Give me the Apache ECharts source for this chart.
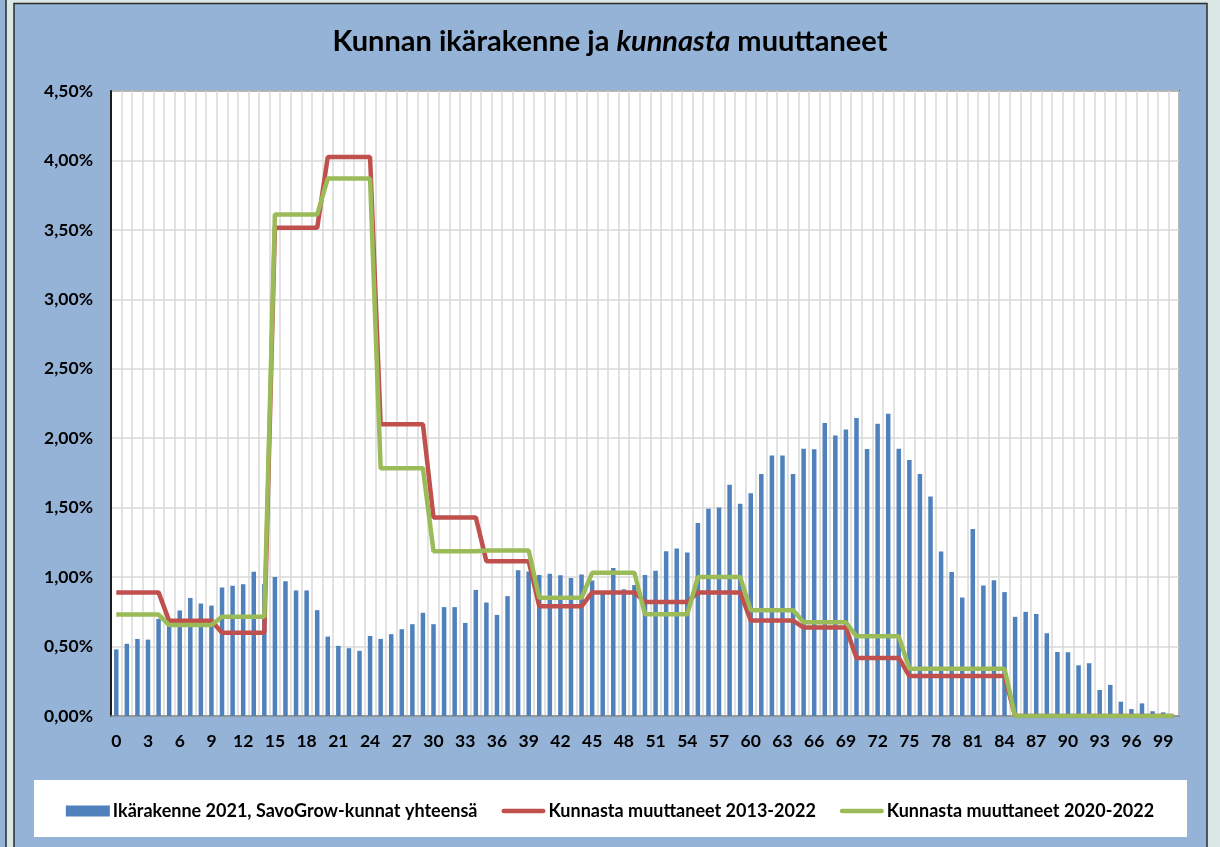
<!DOCTYPE html>
<html>
<head>
<meta charset="utf-8">
<script src="https://cdn.jsdelivr.net/npm/echarts@6/dist/echarts.min.js"></script>
<style>
html, body { margin: 0; padding: 0; background: #dbe7e5; }
#chart { width: 1220px; height: 847px; }
</style>
</head>
<body>
<div id="chart"></div>
<script>
// age categories 0..100
var ages = ['0','1','2','3','4','5','6','7','8','9','10','11','12','13','14','15','16','17','18','19',
    '20','21','22','23','24','25','26','27','28','29','30','31','32','33','34','35','36','37','38','39',
    '40','41','42','43','44','45','46','47','48','49','50','51','52','53','54','55','56','57','58','59',
    '60','61','62','63','64','65','66','67','68','69','70','71','72','73','74','75','76','77','78','79',
    '80','81','82','83','84','85','86','87','88','89','90','91','92','93','94','95','96','97','98','99','100'];

// Ikärakenne 2021, SavoGrow-kunnat yhteensä (%)
var ikarakenne = [0.48, 0.52, 0.555, 0.55, 0.70, 0.70, 0.76, 0.85, 0.81, 0.795,
    0.925, 0.937, 0.949, 1.038, 0.95, 1.00, 0.97, 0.904, 0.904, 0.762,
    0.572, 0.505, 0.488, 0.469, 0.576, 0.555, 0.589, 0.625, 0.661, 0.743,
    0.661, 0.784, 0.784, 0.670, 0.908, 0.817, 0.728, 0.863, 1.050, 1.04,
    1.015, 1.024, 1.014, 0.993, 1.019, 0.976, 0.90, 1.065, 0.912, 0.943,
    1.016, 1.045, 1.187, 1.206, 1.178, 1.389, 1.492, 1.502, 1.665, 1.528,
    1.603, 1.742, 1.875, 1.875, 1.742, 1.925, 1.920, 2.110, 2.019, 2.062,
    2.146, 1.923, 2.105, 2.177, 1.925, 1.843, 1.743, 1.581, 1.185, 1.036,
    0.853, 1.346, 0.940, 0.978, 0.892, 0.714, 0.750, 0.735, 0.596, 0.461,
    0.459, 0.365, 0.380, 0.187, 0.224, 0.103, 0.050, 0.091, 0.034, 0.026, 0];

// Kunnasta muuttaneet 2013-2022 (%)
var muutto1322 = [0.89, 0.89, 0.89, 0.89, 0.89, 0.685, 0.685, 0.685, 0.685, 0.685,
    0.60, 0.60, 0.60, 0.60, 0.60, 3.515, 3.515, 3.515, 3.515, 3.515,
    4.025, 4.025, 4.025, 4.025, 4.025, 2.10, 2.10, 2.10, 2.10, 2.10,
    1.43, 1.43, 1.43, 1.43, 1.43, 1.115, 1.115, 1.115, 1.115, 1.115,
    0.79, 0.79, 0.79, 0.79, 0.79, 0.89, 0.89, 0.89, 0.89, 0.89,
    0.82, 0.82, 0.82, 0.82, 0.82, 0.89, 0.89, 0.89, 0.89, 0.89,
    0.687, 0.687, 0.687, 0.687, 0.687, 0.637, 0.637, 0.637, 0.637, 0.637,
    0.418, 0.418, 0.418, 0.418, 0.418, 0.288, 0.288, 0.288, 0.288, 0.288,
    0.288, 0.288, 0.288, 0.288, 0.288, 0, 0, 0, 0, 0,
    0, 0, 0, 0, 0, 0, 0, 0, 0, 0, 0];

// Kunnasta muuttaneet 2020-2022 (%)
var muutto2022 = [0.73, 0.73, 0.73, 0.73, 0.73, 0.655, 0.655, 0.655, 0.655, 0.655,
    0.714, 0.714, 0.714, 0.714, 0.714, 3.61, 3.61, 3.61, 3.61, 3.61,
    3.87, 3.87, 3.87, 3.87, 3.87, 1.783, 1.783, 1.783, 1.783, 1.783,
    1.187, 1.187, 1.187, 1.187, 1.187, 1.192, 1.192, 1.192, 1.192, 1.192,
    0.851, 0.851, 0.851, 0.851, 0.851, 1.031, 1.031, 1.031, 1.031, 1.031,
    0.733, 0.733, 0.733, 0.733, 0.733, 1.00, 1.00, 1.00, 1.00, 1.00,
    0.762, 0.762, 0.762, 0.762, 0.762, 0.675, 0.675, 0.675, 0.675, 0.675,
    0.574, 0.574, 0.574, 0.574, 0.574, 0.341, 0.341, 0.341, 0.341, 0.341,
    0.341, 0.341, 0.341, 0.341, 0.341, 0, 0, 0, 0, 0,
    0, 0, 0, 0, 0, 0, 0, 0, 0, 0, 0];

var seriesNames = ['Ikärakenne 2021, SavoGrow-kunnat yhteensä', 'Kunnasta muuttaneet 2013-2022', 'Kunnasta muuttaneet 2020-2022'];

var font = 'Lato';
var lineIcon = 'path://M2.5,0 L45.5,0 A2.5,2.5 0 0 1 45.5,5 L2.5,5 A2.5,2.5 0 0 1 2.5,0 Z';
var myChart = echarts.init(document.getElementById('chart'));

myChart.setOption({
    backgroundColor: '#dbe7e5',
    animation: false,
    graphic: [
        // side panel on the left edge
        {type: 'rect', shape: {x: -10, y: -10, width: 16, height: 870}, style: {fill: '#95b3d7', stroke: '#2b2b2b', lineWidth: 1.5}, z: -10},
        // chart panel
        {type: 'rect', shape: {x: 14, y: 3.5, width: 1193, height: 860}, style: {fill: '#95b3d7', stroke: '#2b2b2b', lineWidth: 1.5}, z: -10},
        // legend box
        {type: 'rect', shape: {x: 34, y: 780, width: 1153, height: 57}, style: {fill: '#ffffff'}, z: -5}
    ],
    title: {
        text: '{b|Kunnan ikärakenne ja }{i|kunnasta}{b| muuttaneet}',
        left: 'center',
        top: 22,
        textStyle: {
            rich: {
                b: {fontFamily: font, fontWeight: 'bold', fontSize: 29, color: '#000'},
                i: {fontFamily: font, fontWeight: 'bold', fontStyle: 'italic', fontSize: 29, color: '#000'}
            }
        }
    },
    legend: {
        data: [
            {name: seriesNames[0], icon: 'rect'},
            {name: seriesNames[1], icon: lineIcon},
            {name: seriesNames[2], icon: lineIcon}
        ],
        left: 'center',
        top: 797,
        itemWidth: 44,
        itemHeight: 11,
        itemGap: 24,
        textStyle: {fontFamily: font, fontWeight: 'bold', fontSize: 18, color: '#000', padding: [0, 0, 0, -2]}
    },
    grid: {
        left: 111,
        right: 41,
        top: 91,
        bottom: 131,
        show: true,
        borderColor: '#1a1a1a',
        borderWidth: 1.5,
        backgroundColor: '#ffffff'
    },
    xAxis: {
        type: 'category',
        data: ages,
        boundaryGap: true,
        axisLine: {show: true, lineStyle: {color: '#8c8c8c', width: 1.5}},
        axisTick: {show: false},
        axisLabel: {
            interval: 2,
            margin: 16,
            fontFamily: font,
            fontWeight: 'bold',
            fontSize: 17.5,
            color: '#000'
        },
        splitLine: {show: true, interval: 0, lineStyle: {color: '#d9d9d9', width: 1.5}}
    },
    yAxis: {
        type: 'value',
        min: 0,
        max: 4.5,
        interval: 0.5,
        axisLine: {show: true, lineStyle: {color: '#1a1a1a', width: 2}},
        axisTick: {show: false},
        axisLabel: {
            margin: 18,
            fontFamily: font,
            fontWeight: 'bold',
            fontSize: 17.5,
            color: '#000',
            formatter: function (v) {
                return v.toFixed(2).replace('.', ',') + '%';
            }
        },
        splitLine: {show: true, lineStyle: {color: '#d9d9d9', width: 1.5}}
    },
    series: [
        {
            name: seriesNames[0],
            type: 'bar',
            data: ikarakenne,
            barWidth: 4.5,
            itemStyle: {color: '#4f81bd'}
        },
        {
            name: seriesNames[1],
            type: 'line',
            data: muutto1322,
            symbol: 'none',
            lineStyle: {color: '#c0504d', width: 4.5},
            itemStyle: {color: '#c0504d'}
        },
        {
            name: seriesNames[2],
            type: 'line',
            data: muutto2022,
            symbol: 'none',
            lineStyle: {color: '#9bbb59', width: 4.5},
            itemStyle: {color: '#9bbb59'}
        }
    ]
});
</script>
</body>
</html>
